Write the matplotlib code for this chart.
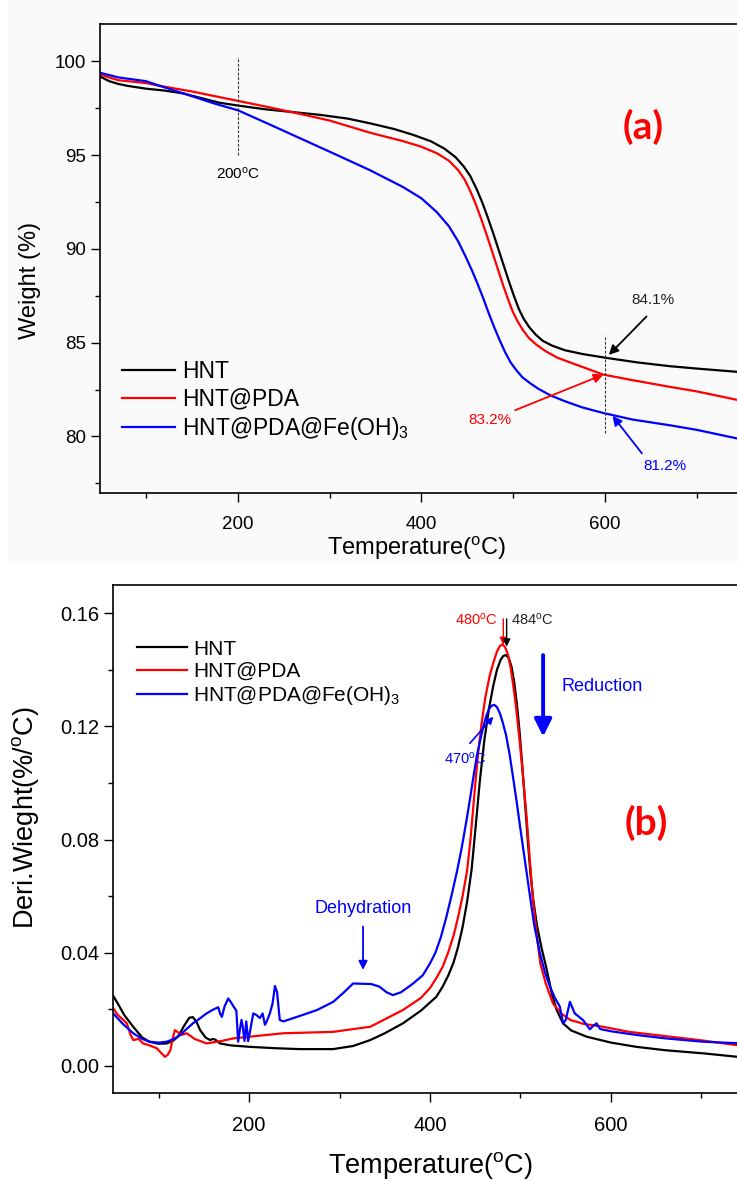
import matplotlib
matplotlib.use("Agg")
from matplotlib import pyplot as plt
from matplotlib.patches import Rectangle
from matplotlib.ticker import MultipleLocator, FormatStrFormatter

plt.rcParams['font.family'] = ['Liberation Sans', 'DejaVu Sans']
plt.rcParams['mathtext.default'] = 'regular'

# TGA curves, weight (%) vs temperature (C)
tga_hnt_t = [50, 60, 70, 80, 100, 120, 140, 160, 180, 200, 230, 260, 290, 320, 344, 370, 390,
             410, 425, 437, 446, 453, 460, 466, 472, 478, 484, 490, 496, 501, 506, 511, 517,
             524, 532, 542, 556, 575, 600, 635, 670, 700, 743, 800]
tga_hnt_w = [99.2, 98.95, 98.8, 98.7, 98.55, 98.45, 98.3, 98.05, 97.8, 97.65, 97.45, 97.3,
             97.15, 96.95, 96.7, 96.4, 96.1, 95.75, 95.35, 94.9, 94.4, 93.9, 93.2, 92.5, 91.7,
             90.85, 89.95, 89.05, 88.15, 87.45, 86.8, 86.3, 85.85, 85.45, 85.1, 84.85, 84.6,
             84.4, 84.2, 83.95, 83.75, 83.62, 83.45, 83.25]

tga_pda_t = [50, 70, 100, 115, 150, 195, 230, 268, 300, 344, 380, 400, 417, 430, 440, 447, 453,
             459, 465, 471, 477, 483, 489, 494, 499, 504, 510, 517, 525, 535, 548, 570, 598,
             630, 670, 700, 743, 800]
tga_pda_w = [99.3, 99.0, 98.85, 98.7, 98.4, 97.95, 97.6, 97.2, 96.85, 96.2, 95.75, 95.45, 95.1,
             94.7, 94.2, 93.7, 93.1, 92.4, 91.6, 90.75, 89.85, 88.95, 88.05, 87.35, 86.7, 86.2,
             85.7, 85.25, 84.9, 84.55, 84.2, 83.8, 83.3, 83.0, 82.65, 82.4, 81.96, 81.5]

tga_fe_t = [50, 70, 100, 115, 150, 175, 200, 232, 268, 304, 344, 380, 400, 417, 430, 440, 448,
            455, 461, 467, 473, 479, 485, 491, 497, 503, 510, 518, 527, 540, 555, 575, 598,
            630, 670, 700, 743, 800]
tga_fe_w = [99.4, 99.15, 98.95, 98.7, 98.15, 97.75, 97.4, 96.7, 95.9, 95.1, 94.2, 93.3, 92.7,
            91.95, 91.2, 90.4, 89.6, 88.85, 88.15, 87.4, 86.6, 85.85, 85.15, 84.5, 83.95, 83.55,
            83.15, 82.85, 82.55, 82.2, 81.9, 81.55, 81.25, 80.9, 80.6, 80.35, 79.9, 79.5]

# DTG curves, derivative weight (%/C) vs temperature (C)
dtg_hnt_t = [50, 55, 62, 72, 82, 90, 100, 109, 116, 122, 128, 134, 138, 142, 146, 152, 157, 160,
             163, 168, 180, 201, 230, 256, 293, 315, 334, 350, 370, 390, 407, 414, 420, 426, 431,
             436, 441, 446, 450, 455, 460, 465, 470, 474, 478, 481, 484, 487, 490, 493, 496, 499,
             502, 505, 508, 511, 514, 518, 523, 529, 535, 540, 547, 556, 573, 600, 628, 660,
             702, 739, 800]
dtg_hnt_d = [0.0247, 0.022, 0.018, 0.0138, 0.010, 0.0085, 0.0078, 0.0079, 0.0088, 0.0105, 0.014,
             0.0170, 0.0172, 0.0155, 0.0126, 0.0100, 0.0091, 0.0095, 0.0092, 0.0079, 0.0072,
             0.0067, 0.0062, 0.0059, 0.0059, 0.0070, 0.0091, 0.0115, 0.015, 0.0195, 0.0244,
             0.0280, 0.0318, 0.0365, 0.0420, 0.0490, 0.0580, 0.0695, 0.083, 0.1005, 0.115,
             0.126, 0.1345, 0.1400, 0.1435, 0.1449, 0.1452, 0.1442, 0.1412, 0.1358, 0.1280,
             0.1180, 0.1060, 0.093, 0.080, 0.068, 0.059, 0.050, 0.042, 0.034, 0.025, 0.0197,
             0.015, 0.0125, 0.0103, 0.0082, 0.0067, 0.0055, 0.0044, 0.0032, 0.0025]

dtg_pda_t = [50, 55, 60, 65, 69, 72, 75, 78, 83, 90, 98, 103, 107, 110, 113, 116, 118, 121, 125,
             131, 140, 153, 170, 183, 210, 238, 293, 334, 370, 390, 400, 407, 414, 420, 426, 431,
             436, 441, 445, 449, 453, 457, 461, 466, 470, 474, 477, 480, 483, 486, 489, 492, 495,
             499, 503, 507, 510, 514, 518, 522, 528, 536, 545, 555, 570, 591, 620, 665, 700,
             739, 800]
dtg_pda_d = [0.0203, 0.018, 0.0165, 0.015, 0.011, 0.0091, 0.0093, 0.0095, 0.0079, 0.0072,
             0.0062, 0.0045, 0.0032, 0.0038, 0.0055, 0.010, 0.0126, 0.012, 0.0109, 0.0115,
             0.0095, 0.0079, 0.0088, 0.0097, 0.0106, 0.0115, 0.012, 0.0138, 0.0197, 0.024,
             0.0275, 0.0310, 0.0350, 0.0400, 0.0460, 0.0525, 0.0600, 0.0690, 0.081, 0.096,
             0.110, 0.121, 0.130, 0.138, 0.1425, 0.1465, 0.1483, 0.1490, 0.1480, 0.1455, 0.1410,
             0.1345, 0.127, 0.115, 0.1015, 0.087, 0.074, 0.058, 0.046, 0.036, 0.029, 0.022,
             0.0185, 0.0162, 0.0148, 0.0138, 0.012, 0.0103, 0.009, 0.0073, 0.0065]

dtg_fe_t = [50, 60, 72, 82, 90, 100, 109, 117, 124, 131, 138, 146, 153, 160, 166, 168, 170, 173,
            177, 180, 183, 186, 188, 190, 191.7, 193, 195, 197, 199, 201, 204.7, 208, 212, 215,
            217.6, 220, 223, 226, 228.7, 231, 234, 238, 255, 275, 293, 305, 315, 325, 335, 344,
            352, 359, 368, 381, 392, 400, 406, 412, 418, 424, 430, 435, 441, 445, 448, 452, 456,
            459, 462, 465, 468, 471, 474, 477, 480, 484, 488, 492, 496, 500, 504, 509, 515,
            521.5, 527, 532.5, 538, 543.5, 547, 550, 554.6, 560, 569, 576.7, 580, 584, 588, 600,
            628, 660, 702, 739, 800]
dtg_fe_d = [0.0185, 0.015, 0.0115, 0.0095, 0.0085, 0.0082, 0.0085, 0.0095, 0.0109, 0.013, 0.015,
            0.0168, 0.0185, 0.0198, 0.0207, 0.0185, 0.0173, 0.021, 0.0238, 0.0225, 0.0209,
            0.0195, 0.0085, 0.013, 0.0162, 0.0140, 0.0088, 0.0157, 0.0087, 0.012, 0.0185, 0.018,
            0.0169, 0.0185, 0.0145, 0.016, 0.0185, 0.022, 0.0282, 0.026, 0.0162, 0.0157, 0.0175,
            0.0197, 0.0226, 0.026, 0.0291, 0.029, 0.0289, 0.028, 0.026, 0.025, 0.026, 0.029,
            0.032, 0.0362, 0.040, 0.0455, 0.0525, 0.0605, 0.0690, 0.0770, 0.088, 0.096, 0.1022,
            0.110, 0.1158, 0.120, 0.1235, 0.1260, 0.1273, 0.1276, 0.1268, 0.1248, 0.1218,
            0.1170, 0.1100, 0.1015, 0.0928, 0.0835, 0.0745, 0.0633, 0.050, 0.0398, 0.033, 0.028,
            0.024, 0.0209, 0.015, 0.0162, 0.0226, 0.0185, 0.0162, 0.0129, 0.014, 0.015, 0.013,
            0.0122, 0.0109, 0.0097, 0.0085, 0.008, 0.0075]

labels = ['HNT', 'HNT@PDA', 'HNT@PDA@Fe(OH)$_3$']
colors = ['black', '#ff0000', '#0000ff']

fig = plt.figure(figsize=(7.37, 11.81), dpi=100)
fig.patches.append(Rectangle((0.011, 0.523), 0.989, 0.477, transform=fig.transFigure,
                             facecolor='#fafafa', edgecolor='none', zorder=-10))


def style_axes(ax, size):
    for s in ax.spines.values():
        s.set_linewidth(1.2)
    ax.tick_params(which='both', direction='out', width=1.0, labelsize=size)
    ax.tick_params(which='major', length=6.5)
    ax.tick_params(which='minor', length=3.5)
    ax.tick_params(axis='x', pad=10)
    ax.set_facecolor('none')


def arrow(ax, head, tail, color, lw=1.3, ms=14):
    ax.annotate('', xy=head, xytext=tail,
                arrowprops=dict(arrowstyle='-|>', color=color, lw=lw, mutation_scale=ms,
                                shrinkA=0, shrinkB=0))


# ---- (a) TGA ----
ax1 = fig.add_axes([0.1357, 0.5828, 0.9347, 0.3969])
for t, w, lab, c in zip([tga_hnt_t, tga_pda_t, tga_fe_t], [tga_hnt_w, tga_pda_w, tga_fe_w],
                        labels, colors):
    ax1.plot(t, w, color=c, lw=1.6, label=lab)
ax1.set_xlim(50, 800)
ax1.set_ylim(77, 102)
ax1.set_xticks([200, 400, 600])
ax1.xaxis.set_minor_locator(MultipleLocator(100))
ax1.yaxis.set_major_locator(MultipleLocator(5))
ax1.yaxis.set_minor_locator(MultipleLocator(2.5))
style_axes(ax1, 13.5)
ax1.set_xlabel('Temperature($^{o}$C)', fontsize=17)
ax1.set_ylabel('Weight (%)', fontsize=17)
ax1.xaxis.set_label_coords(0.4587, -0.118)
ax1.yaxis.set_label_coords(-0.102, 0.452)
ax1.xaxis.label.set_va('center')
ax1.yaxis.label.set_va('center')

ax1.plot([200, 200], [95.0, 100.25], color='#333333', lw=0.8, ls=(0, (2.5, 1.5)))
ax1.text(200, 94.0, '200$^{o}$C', fontsize=11, ha='center', va='center')
ax1.plot([600, 600], [80.2, 85.4], color='#333333', lw=0.8, ls=(0, (2.5, 1.5)))

ax1.text(652, 87.3, '84.1%', fontsize=11, ha='center', va='center', color='#222222')
arrow(ax1, (604, 84.35), (645, 86.4), 'black')
ax1.text(475, 80.9, '83.2%', fontsize=11, ha='center', va='center', color='#ff0000')
arrow(ax1, (598, 83.3), (502, 81.4), '#ff0000')
ax1.text(665, 78.4, '81.2%', fontsize=11, ha='center', va='center', color='#0000ff')
arrow(ax1, (608, 81.1), (640, 79.1), '#0000ff')

ax1.text(641, 96.5, '(a)', fontsize=28, fontweight='bold', family=['Lato', 'DejaVu Sans'],
         color='#ff0000', ha='center', va='center')
ax1.legend(loc='upper left', bbox_to_anchor=(0.032, 0.283), frameon=False, fontsize=16.5,
           handlelength=2.3, handletextpad=0.3, labelspacing=0.2, borderpad=0,
           borderaxespad=0)

# ---- (b) DTG ----
ax2 = fig.add_axes([0.1537, 0.0748, 0.9209, 0.4299])
for t, d, lab, c in zip([dtg_hnt_t, dtg_pda_t, dtg_fe_t], [dtg_hnt_d, dtg_pda_d, dtg_fe_d],
                        labels, colors):
    ax2.plot(t, d, color=c, lw=1.6, label=lab)
ax2.set_xlim(50, 800)
ax2.set_ylim(-0.0095, 0.17)
ax2.set_xticks([200, 400, 600])
ax2.xaxis.set_minor_locator(MultipleLocator(100))
ax2.yaxis.set_major_locator(MultipleLocator(0.04))
ax2.yaxis.set_minor_locator(MultipleLocator(0.02))
ax2.yaxis.set_major_formatter(FormatStrFormatter('%.2f'))
style_axes(ax2, 14.5)
ax2.set_xlabel('Temperature($^{o}$C)', fontsize=19.5)
ax2.set_ylabel('Deri.Wieght(%/$^{o}$C)', fontsize=19.5)
ax2.xaxis.set_label_coords(0.4666, -0.144)
ax2.yaxis.set_label_coords(-0.130, 0.541)
ax2.xaxis.label.set_va('center')
ax2.yaxis.label.set_va('center')

ax2.text(475, 0.1576, '480$^{o}$C', fontsize=10.5, ha='right', va='center', color='#ff0000')
ax2.text(490, 0.1576, '484$^{o}$C', fontsize=10.5, ha='left', va='center', color='#222222')
arrow(ax2, (481, 0.1488), (481, 0.1580), '#ff0000', lw=1.0, ms=11)
arrow(ax2, (484.7, 0.1482), (484.7, 0.1580), 'black', lw=1.0, ms=11)

ax2.text(438.6, 0.1087, '470$^{o}$C', fontsize=10.5, ha='center', va='center', color='#0000ff')
arrow(ax2, (470, 0.1234), (444, 0.1140), '#0000ff', lw=1.2, ms=10)

arrow(ax2, (525, 0.1164), (525, 0.1452), '#0000ff', lw=2.8, ms=26)
ax2.text(545, 0.134, 'Reduction', fontsize=13, ha='left', va='center', color='#0000ff')

ax2.text(326, 0.0557, 'Dehydration', fontsize=13, ha='center', va='center', color='#0000ff')
arrow(ax2, (326, 0.0339), (326, 0.0492), '#0000ff', lw=1.3, ms=13)

ax2.text(639, 0.0857, '(b)', fontsize=28, fontweight='bold', family=['Lato', 'DejaVu Sans'],
         color='#ff0000', ha='center', va='center')
ax2.legend(loc='upper left', bbox_to_anchor=(0.035, 0.892), frameon=False, fontsize=15,
           handlelength=2.4, handletextpad=0.3, labelspacing=0.15, borderpad=0,
           borderaxespad=0)

fig.savefig('out.png', dpi=100)
